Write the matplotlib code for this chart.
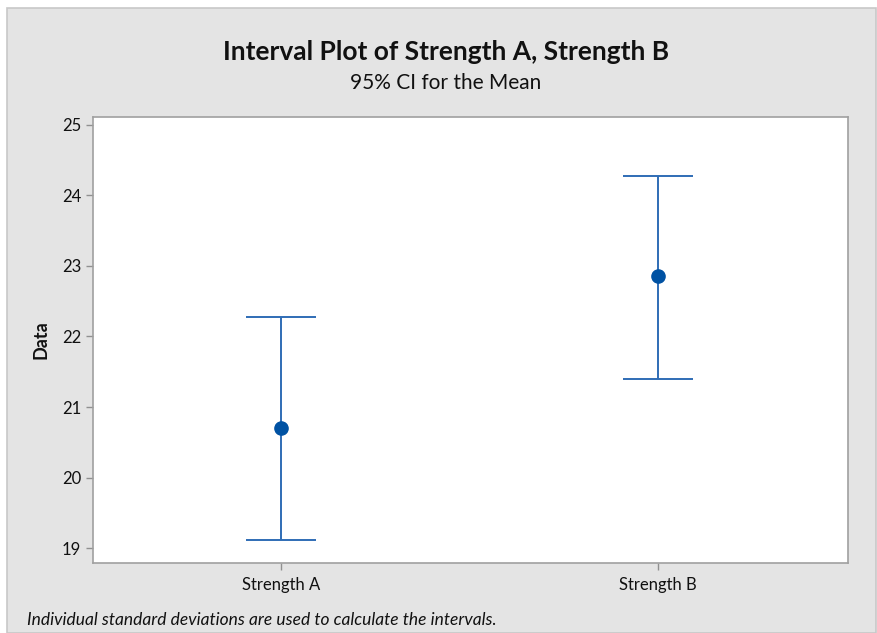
import matplotlib.pyplot as plt
from matplotlib.patches import Rectangle
import numpy as np

plt.rcParams['font.family'] = ['Lato', 'DejaVu Sans']

# interval plot values
groups = ['Strength A', 'Strength B']
means = [20.71, 22.85]
ci_low = [19.12, 21.40]
ci_high = [22.28, 24.27]
yticks = [19, 20, 21, 22, 23, 24, 25]

W, H = 878, 633
fig = plt.figure(figsize=(W / 100, H / 100), dpi=100)
fig.patch.set_facecolor('white')

# gray panel behind everything
panel = Rectangle((7 / W, 0), (876 - 7) / W, (H - 8) / H, transform=fig.transFigure,
                  facecolor='#e4e4e4', edgecolor='#c8c8c8', linewidth=1.2, zorder=-10)
fig.add_artist(panel)

left, right, top, bottom = 93, 848, 117, 563
ax = fig.add_axes([left / W, 1 - bottom / H, (right - left) / W, (bottom - top) / H])
ax.set_facecolor('white')

x = np.arange(len(groups))
means = np.array(means)
err = [means - np.array(ci_low), np.array(ci_high) - means]
ax.errorbar(x, means, yerr=err, fmt='none', ecolor='#2f6db5', elinewidth=1.4,
            capsize=25.5, capthick=1.4)
ax.plot(x, means, 'o', color='#0052a3', markersize=9.5, zorder=3)

ax.set_xlim(-0.5, 1.505)
ax.set_ylim(18.79, 25.11)
ax.set_yticks(yticks)
ax.set_xticks(x)
ax.set_xticklabels(groups)
ax.tick_params(axis='both', colors='#909090', labelcolor='#111111', labelsize=12, length=5, width=1)
ax.tick_params(axis='x', pad=5)
for sp in ax.spines.values():
    sp.set_color('#a0a0a0')
    sp.set_linewidth(1.2)

ax.set_ylabel('Data', fontsize=13, fontweight='bold', color='#111111', labelpad=9)

cx = 446 / W
fig.text(cx, 1 - 52 / H, 'Interval Plot of Strength A, Strength B', ha='center', va='center',
         fontsize=19, fontweight='bold', color='#111111')
fig.text(cx, 1 - 83 / H, '95% CI for the Mean', ha='center', va='center',
         fontsize=15, color='#111111')
fig.text(27 / W, 1 - 620 / H, 'Individual standard deviations are used to calculate the intervals.',
         ha='left', va='center', fontsize=12.5, style='italic', color='#111111')

fig.savefig('out.png', dpi=100)
